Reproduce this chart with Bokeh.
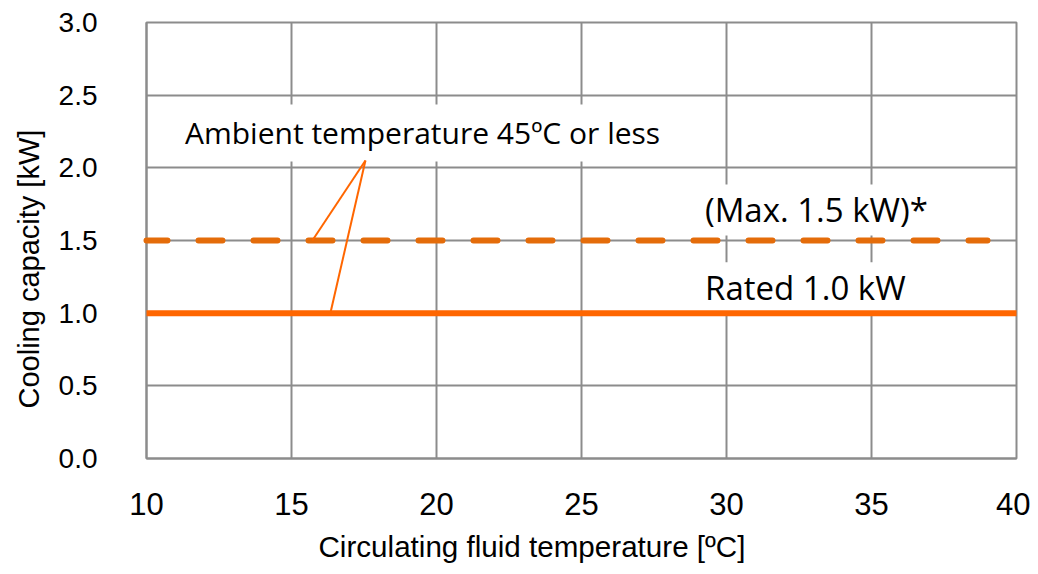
from bokeh.plotting import figure
from bokeh.models import Range1d, Label, FixedTicker, CustomJSTickFormatter, Title
from bokeh.embed import file_html
from bokeh.resources import INLINE

# ---- data ----
x_ticks = [10, 15, 20, 25, 30, 35, 40]
y_ticks = [0.0, 0.5, 1.0, 1.5, 2.0, 2.5, 3.0]
max_x = [10, 39]
max_y = [1.5, 1.5]
rated_x = [10, 40]
rated_y = [1.0, 1.0]
leader_anchor = (17.55, 2.05)
leader_ends_x = [15.72, 16.34]
leader_ends_y = [1.5, 1.0]

ambient_text = "Ambient temperature 45ºC or less"
max_text = "(Max. 1.5 kW)*"
rated_text = "Rated 1.0 kW"
x_title = "Circulating fluid temperature [ºC]"
y_title = "Cooling capacity [kW]"

GRID = "#8c8c8c"

p = figure(width=1030, height=572, x_range=Range1d(10, 40), y_range=Range1d(0, 3),
           output_backend="svg", toolbar_location=None,
           min_border_left=146, min_border_right=14, min_border_top=22, min_border_bottom=112)
p.background_fill_color = "white"
p.border_fill_color = "white"
p.outline_line_color = GRID
p.outline_line_width = 2

p.xaxis.ticker = FixedTicker(ticks=x_ticks)
p.yaxis.ticker = FixedTicker(ticks=y_ticks)
p.yaxis.formatter = CustomJSTickFormatter(code="return tick.toFixed(1);")

for ax in (p.xaxis, p.yaxis):
    ax.axis_line_color = GRID
    ax.axis_line_width = 2
    ax.major_tick_line_color = None
    ax.minor_tick_line_color = None
    ax.major_label_text_color = "black"

p.xaxis.major_label_text_font = "Liberation Sans"
p.xaxis.major_label_text_font_size = "31px"
p.xaxis.major_label_standoff = 28

p.yaxis.major_label_text_font = "Liberation Sans"
p.yaxis.major_label_text_font_size = "28px"
p.yaxis.major_label_standoff = 43

p.xgrid.grid_line_color = GRID
p.xgrid.grid_line_width = 2
p.ygrid.grid_line_color = GRID
p.ygrid.grid_line_width = 2

# axis titles as side titles (off-centre like the reference)
p.add_layout(Title(text=x_title, align="left", offset=172, text_font="Liberation Sans",
                   text_font_size="29.6px", text_font_style="normal", text_color="black",
                   standoff=20), "below")
p.add_layout(Title(text=y_title, align="left", offset=50, text_font="Liberation Sans",
                   text_font_size="29px", text_font_style="normal", text_color="black",
                   standoff=21), "left")

# text labels with white background (above grid, below lines)
lab_font = "Open Sans"
labels = [
    (19.52, 2.24, ambient_text, 30, 8),
    (33.1, 1.71, max_text, 33, 3),
    (32.72, 1.175, rated_text, 33, 3),
]
for lx, ly, t, fs, pad in labels:
    lab = Label(x=lx, y=ly, text=t, text_align="center", text_baseline="alphabetic",
                text_font=lab_font, text_font_size=f"{fs}px", text_color="black",
                background_fill_color="white", padding=pad, level="glyph")
    p.add_layout(lab)

# lines
p.line(max_x, max_y, line_color="#E46C0A", line_width=6, line_dash="24 31",
       line_cap="round", line_dash_offset=3, level="overlay")
p.line(rated_x, rated_y, line_color="#FF6600", line_width=6, level="overlay")

# leader lines
for ex, ey in zip(leader_ends_x, leader_ends_y):
    p.line([leader_anchor[0], ex], [leader_anchor[1], ey], line_color="#FF6600",
           line_width=2, level="overlay")

open("out.html", "w").write(file_html(p, INLINE))
